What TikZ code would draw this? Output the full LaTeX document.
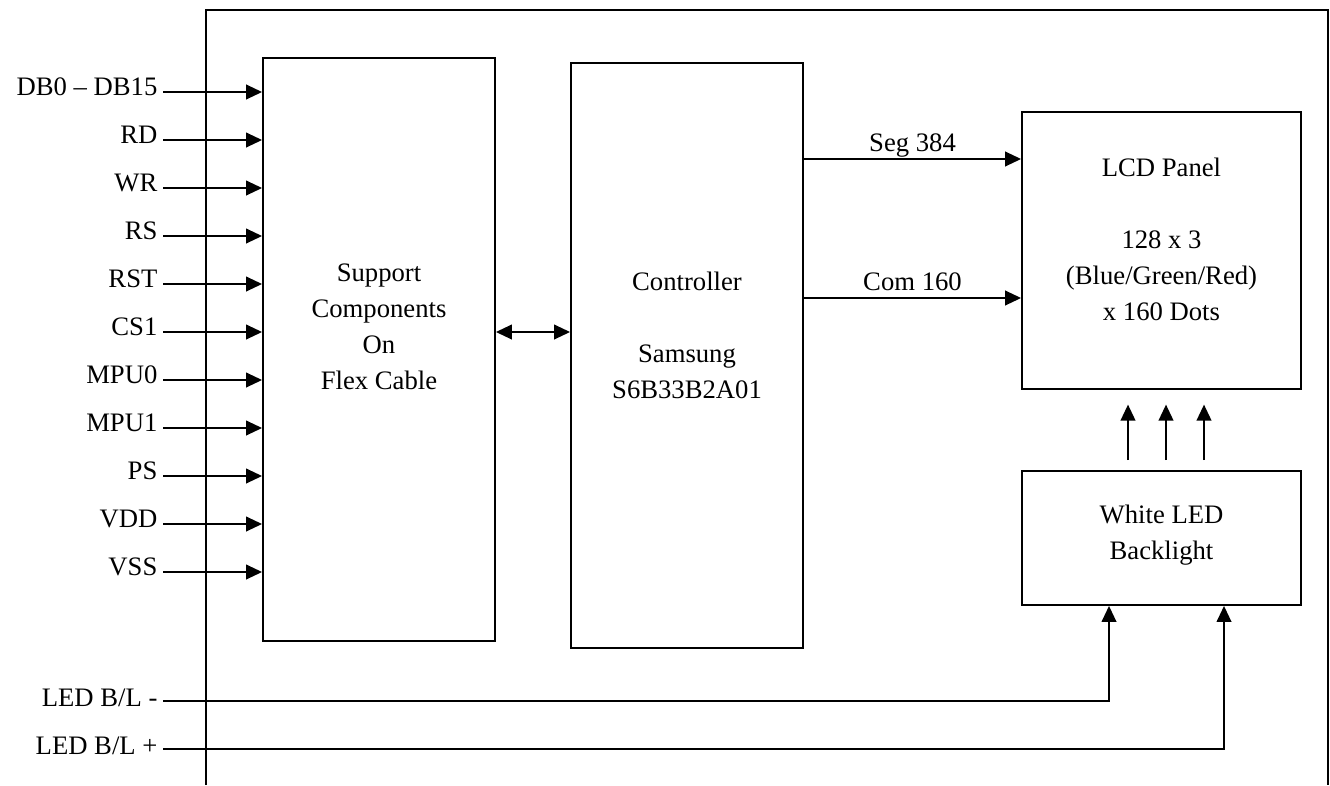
\documentclass[tikz,border=0pt]{standalone}
\usepackage{fontspec}
\setmainfont{Liberation Serif}
\usetikzlibrary{arrows.meta,calc,positioning}
\tikzset{
  block/.style = {
    draw,
    line width=1.4pt,
    inner sep=0pt
  },
  arc/.style = {
    -{Triangle[length=12pt,width=11pt]},
    line width=1.4pt
  },
  bidir/.style = {
    {Triangle[length=12pt,width=11pt]}-{Triangle[length=12pt,width=11pt]},
    line width=1.4pt
  },
  pinlabel/.style = {
    anchor=base east,
    inner sep=0pt,
    inner xsep=4pt
  },
  every node/.style = {
    font=\fontsize{20}{27}\selectfont
  }
}

\begin{document}
\begin{tikzpicture}[x=0.75pt,y=-0.75pt]
		\useasboundingbox (0,0) rectangle (1330,785);
		% module outline, open at the bottom
		\draw[line width=1.2pt] (206,785) -- (206,10) -- (1328,10) -- (1328,785);
		
		\node[block, minimum width=174pt, minimum height=437.25pt] (support) at (379,349.5) {};
		\node[block, minimum width=174pt, minimum height=438.75pt] (controller) at (687,355.5) {};
		\node[block, minimum width=209.25pt, minimum height=207.75pt] (lcd) at (1161.5,250.5) {};
		\node[block, minimum width=209.25pt, minimum height=100.5pt] (led) at (1161.5,538) {};
		
		\node[align=center] (supporttext) at (379,327) {Support\\Components\\On\\Flex Cable};
		\node[align=center] (controllertext) at (687,335) {Controller\\[27pt]Samsung\\S6B33B2A01};
		\node[align=center] (lcdtext) at (1161.5,239) {LCD Panel\\[27pt]128 x 3\\(Blue/Green/Red)\\x 160 Dots};
		\node[align=center] (ledtext) at (1161.5,535) {White LED\\Backlight};
		
		% interface pins
		\foreach \name [count=\i] in {DB0 -- DB15, RD, WR, RS, RST, CS1, MPU0, MPU1, PS, VDD, VSS} {
			\coordinate (in\i) at (163,44+48*\i);
			\node[pinlabel] (pin\i) at ($(in\i)+(0,3)$) {\name};
			\path[arc] (in\i) edge (in\i -| support.west);
		}
		
		\path[bidir] (support.east |- 0,332) edge (controller.west |- 0,332);
		
		\path[arc] (controller.east |- 0,159) edge node[anchor=base, yshift=6pt] (seg) {Seg 384} (lcd.west |- 0,159);
		\path[arc] (controller.east |- 0,298) edge node[anchor=base, yshift=6pt] (com) {Com 160} (lcd.west |- 0,298);
		
		\foreach \dx in {-33.5,4.5,42.5}
			\path[arc, shorten <=7.5pt, shorten >=11pt] ($(led.north)+(\dx,0)$) edge ($(lcd.south)+(\dx,0)$);
		
		% backlight supply
		\coordinate (ledm) at (163,701);
		\coordinate (ledp) at (163,749);
		\node[pinlabel] (ledmlabel) at ($(ledm)+(0,5)$) {LED B/L -};
		\node[pinlabel] (ledplabel) at ($(ledp)+(0,5)$) {LED B/L +};
		\draw[arc] (ledm) -| ($(led.south)+(-52.5,0)$);
		\draw[arc] (ledp) -| ($(led.south)+(62.5,0)$);
	\end{tikzpicture}
\end{document}
